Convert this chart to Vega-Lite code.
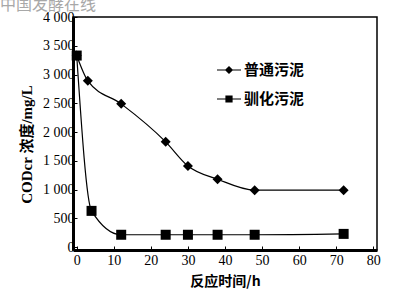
{
  "$schema": "https://vega.github.io/schema/vega-lite/v6.json",
  "autosize": "none",
  "width": 304,
  "height": 233,
  "padding": {"left": 73, "top": 17, "right": 20, "bottom": 45},
  "background": "white",
  "title": {"text": "中国发酵在线", "anchor": "start", "frame": "group", "dx": -73, "offset": -3, "font": "Noto Sans CJK SC", "fontSize": 16, "fontWeight": "normal", "color": "#a8a8a8"},
  "config": {
    "view": {"stroke": "black", "strokeWidth": 1.5},
    "axis": {"grid": false, "domainColor": "black", "domainWidth": 3, "tickColor": "black", "tickSize": -4, "tickWidth": 1, "labelFont": "Liberation Serif", "labelFontSize": 14, "labelColor": "black", "titleFont": "Noto Sans CJK SC", "titleFontSize": 14, "titleFontWeight": "bold", "titleColor": "black"}
  },
  "data": {"values": [
    {"t": 0, "cod": 3330, "s": "普通污泥"},
    {"t": 3, "cod": 2890, "s": "普通污泥"},
    {"t": 12, "cod": 2490, "s": "普通污泥"},
    {"t": 24, "cod": 1830, "s": "普通污泥"},
    {"t": 30, "cod": 1410, "s": "普通污泥"},
    {"t": 38, "cod": 1180, "s": "普通污泥"},
    {"t": 48, "cod": 990, "s": "普通污泥"},
    {"t": 72, "cod": 990, "s": "普通污泥"},
    {"t": 0, "cod": 3330, "s": "驯化污泥"},
    {"t": 4, "cod": 630, "s": "驯化污泥"},
    {"t": 12, "cod": 215, "s": "驯化污泥"},
    {"t": 24, "cod": 215, "s": "驯化污泥"},
    {"t": 30, "cod": 215, "s": "驯化污泥"},
    {"t": 38, "cod": 215, "s": "驯化污泥"},
    {"t": 48, "cod": 215, "s": "驯化污泥"},
    {"t": 72, "cod": 230, "s": "驯化污泥"}
  ]},
  "encoding": {
    "x": {"field": "t", "type": "quantitative", "scale": {"domain": [-1, 81], "nice": false, "zero": false}, "axis": {"values": [0, 10, 20, 30, 40, 50, 60, 70, 80], "title": "反应时间/h", "labelFont": "Liberation Serif", "labelFontSize": 14, "labelPadding": 7, "titlePadding": 7}},
    "y": {"field": "cod", "type": "quantitative", "scale": {"domain": [-50, 4000], "nice": false, "zero": false}, "axis": {"values": [0, 500, 1000, 1500, 2000, 2500, 3000, 3500, 4000], "labelExpr": "replace(format(datum.value, ','), ',', ' ')", "labelFont": "Liberation Serif", "labelFontSize": 14, "title": "CODcr 浓度/mg/L", "titleFont": "'Liberation Serif', 'Noto Sans CJK SC'", "titleFontSize": 15, "titleY": 127, "labelPadding": 3, "titlePadding": 8}}
  },
  "layer": [
    {"mark": {"type": "line", "interpolate": "monotone", "color": "black", "strokeWidth": 1.2}, "encoding": {"detail": {"field": "s"}}},
    {"mark": {"type": "point", "filled": true, "color": "black", "opacity": 1, "size": 100}, "encoding": {"shape": {"field": "s", "type": "nominal", "scale": {"domain": ["普通污泥", "驯化污泥"], "range": ["diamond", "square"]}, "legend": null}}},
    {"mark": {"type": "point", "filled": true, "color": "black", "opacity": 0}, "encoding": {"shape": {"field": "s", "type": "nominal", "scale": {"domain": ["普通污泥", "驯化污泥"], "range": ["M-1,-0.05H-0.3L0,-0.33L0.3,-0.05H1V0.05H0.3L0,0.33L-0.3,0.05H-1Z", "M-1,-0.05H-0.3V-0.3H0.3V-0.05H1V0.05H0.3V0.3H-0.3V0.05H-1Z"]}, "legend": {"title": null, "orient": "none", "legendX": 144, "legendY": 41, "padding": 0, "symbolSize": 576, "symbolOpacity": 1, "symbolFillColor": "black", "symbolStrokeColor": "black", "symbolStrokeWidth": 0, "labelFont": "Noto Sans CJK SC", "labelFontSize": 15, "labelFontWeight": "bold", "labelColor": "black", "labelOffset": 3, "rowPadding": 9, "encode": {"symbols": {"update": {"fill": {"value": "black"}, "fillOpacity": {"value": 1}, "opacity": {"value": 1}}}}}}}}
  ],
  "resolve": {"scale": {"shape": "independent"}}
}
